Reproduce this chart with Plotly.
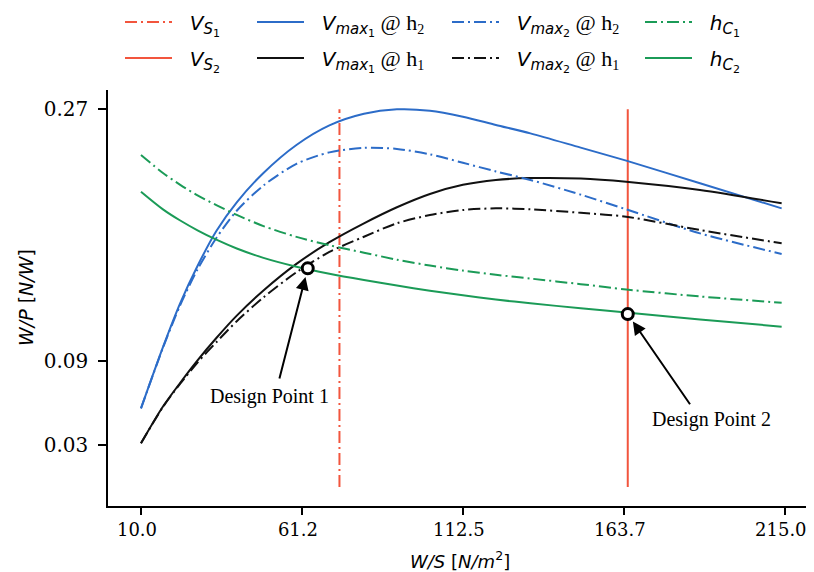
import plotly.graph_objects as go

# ---- data ----
ws = [10, 17, 22.5, 28, 34, 40.5, 49, 59.5, 70, 81, 91.5, 102, 112.5, 123, 134, 150, 164.5, 188, 214]
vmax1_h2 = [0.0562, 0.1000, 0.1315, 0.1580, 0.1830, 0.2035, 0.2245, 0.2445, 0.2585, 0.2668, 0.2700, 0.2690,
            0.2647, 0.2588, 0.2528, 0.2426, 0.2333, 0.2171, 0.1992]
vmax2_h2 = [0.0562, 0.0995, 0.1300, 0.1555, 0.1780, 0.1975, 0.2155, 0.2310, 0.2392, 0.2425, 0.2417, 0.2378,
            0.2318, 0.2256, 0.2195, 0.2090, 0.1985, 0.1813, 0.1666]
vmax1_h1 = [0.0312, 0.0575, 0.0745, 0.0905, 0.1065, 0.1225, 0.1405, 0.1595, 0.1750, 0.1885, 0.2000, 0.2095,
            0.2160, 0.2195, 0.2208, 0.2205, 0.2182, 0.2123, 0.2028]
vmax2_h1 = [0.0312, 0.0572, 0.0738, 0.0890, 0.1035, 0.1185, 0.1355, 0.1535, 0.1680, 0.1789, 0.1885, 0.1944,
            0.1980, 0.1992, 0.1985, 0.1960, 0.1932, 0.1837, 0.1742]
hc1 = [0.2373, 0.2245, 0.2160, 0.2085, 0.2015, 0.1945, 0.1865, 0.1788, 0.1728, 0.1675, 0.1625, 0.1583,
       0.1547, 0.1517, 0.1490, 0.1450, 0.1412, 0.1362, 0.1317]
hc2 = [0.2111, 0.1985, 0.1905, 0.1835, 0.1768, 0.1705, 0.1638, 0.1575, 0.1525, 0.1480, 0.1440, 0.1403,
       0.1370, 0.1340, 0.1313, 0.1278, 0.1248, 0.1198, 0.1146]
vs1 = 73.2
vs2 = 165.0
vs_y = [0.0, 0.27]
dp_x = [63.1, 165.0]
dp_y = [0.1563, 0.1236]
dp_labels = ["Design Point 1", "Design Point 2"]
x_tickvals = [10, 61.25, 112.5, 163.75, 215]
x_ticktext = ["10.0", "61.2", "112.5", "163.7", "215.0"]
y_tickvals = [0.03, 0.09, 0.27]
y_ticktext = ["0.03", "0.09", "0.27"]
x_title = "<i>W/S</i> [<i>N/m</i><sup>2</sup>]"
y_title = "<i>W/P</i> [<i>N/W</i>]"

RED = "#F2553D"
BLUE = "#2C6CC8"
GREEN = "#1B9B57"
BLACK = "#111111"
DD = "12px,4px,2px,4px"
SERIF = "DejaVu Serif"
SANS = "DejaVu Sans"
TIMES = "Liberation Serif"

W, H = 814, 572
ML, MR, MT, MB = 100, 8, 82, 74


def sub(t, size):
    return f"<sub><span style='font-size:{size}px'>{t}</span></sub>"


def sym(main, s, n):
    return f"&nbsp;&nbsp;<i>{main}</i>" + sub(f"<i>{s}</i>" + sub(n, 11), 15)


def at_h(n):
    return f"<span style='font-family:{TIMES};font-size:22px'> @ h{sub(n, 14)}</span>"


names = [
    sym("V", "S", "1"),
    sym("V", "S", "2"),
    sym("V", "max", "1") + at_h(2),
    sym("V", "max", "1") + at_h(1),
    sym("V", "max", "2") + at_h(2),
    sym("V", "max", "2") + at_h(1),
    sym("h", "C", "1"),
    sym("h", "C", "2"),
]

fig = go.Figure()


def line(x, y, color, dash, name, leg):
    fig.add_trace(go.Scatter(x=x, y=y, mode="lines", name=name, legend=leg,
                             line=dict(color=color, width=2, dash=dash, shape="spline", smoothing=0.8),
                             hoverinfo="skip"))


line([vs1, vs1], vs_y, RED, DD, names[0], "legend")
line([vs2, vs2], vs_y, RED, "solid", names[1], "legend2")
line(ws, vmax1_h2, BLUE, "solid", names[2], "legend3")
line(ws, vmax1_h1, BLACK, "solid", names[3], "legend4")
line(ws, vmax2_h2, BLUE, DD, names[4], "legend5")
line(ws, vmax2_h1, BLACK, DD, names[5], "legend6")
line(ws, hc1, GREEN, DD, names[6], "legend7")
line(ws, hc2, GREEN, "solid", names[7], "legend8")

fig.add_trace(go.Scatter(x=dp_x, y=dp_y, mode="markers", showlegend=False, hoverinfo="skip",
                         marker=dict(size=11, color="white", line=dict(color="black", width=3))))

# legend item placements (pixel positions of line-sample start and row centre)
leg_pos = [(125, 22), (125, 58), (257, 22), (257, 58), (452, 22), (452, 58), (645, 22), (645, 58)]
leg_keys = ["legend"] + [f"legend{i}" for i in range(2, 9)]
legends = {}
for k, (px, py) in zip(leg_keys, leg_pos):
    legends[k] = dict(x=(px - 13) / W, xref="container", xanchor="left",
                      y=1 - (py - 8) / H, yref="container", yanchor="middle",
                      bgcolor="rgba(0,0,0,0)", borderwidth=0,
                      font=dict(family=SANS, size=20, color="black"),
                      itemwidth=47)

# annotations
PW = W - ML - MR
PH = H - MT - MB
arrow_off = [(-28.7, 111.7), (63.3, 91.7)]
text_off = [(-38.7, -127.7), (83.8, -105.7)]
anns = []
for i in range(2):
    anns.append(dict(x=dp_x[i], y=dp_y[i], xref="x", yref="y", text="", showarrow=True,
                     ax=arrow_off[i][0], ay=arrow_off[i][1], arrowhead=2, arrowsize=1.3,
                     arrowwidth=2, arrowcolor="black", standoff=9))
    anns.append(dict(x=dp_x[i], y=dp_y[i], xref="x", yref="y", text=dp_labels[i], showarrow=False,
                     xshift=text_off[i][0], yshift=text_off[i][1],
                     font=dict(family=TIMES, size=20, color="black")))
# axis titles (screen centres (460,560) and (26,298); page has an 8px offset)
anns.append(dict(x=(452 - ML) / PW, y=(H - MB - 552) / PH, xref="paper", yref="paper",
                 text=x_title, showarrow=False, xanchor="center", yanchor="middle",
                 font=dict(family=SANS, size=18, color="black")))
anns.append(dict(x=(18 - ML) / PW, y=(H - MB - 290) / PH, xref="paper", yref="paper",
                 text=y_title, showarrow=False, xanchor="center", yanchor="middle", textangle=-90,
                 font=dict(family=SANS, size=19, color="black")))

fig.update_layout(
    width=W, height=H,
    margin=dict(l=ML, r=MR, t=MT, b=MB, autoexpand=False),
    paper_bgcolor="white", plot_bgcolor="white",
    annotations=anns,
    **legends,
)
fig.update_xaxes(range=[-0.5, 224.3], tickvals=x_tickvals, ticktext=x_ticktext,
                 showgrid=False, zeroline=False, showline=True, linecolor="black", linewidth=1.5,
                 ticks="outside", ticklen=7, tickwidth=1.5, tickcolor="black", ticklabelstandoff=0,
                 ticklabelshift=-4,
                 tickfont=dict(family=SERIF, size=18, color="black"))
fig.update_yaxes(range=[-0.0136, 0.2838], tickvals=y_tickvals, ticktext=y_ticktext,
                 showgrid=False, zeroline=False, showline=True, linecolor="black", linewidth=1.5,
                 ticks="outside", ticklen=8, tickwidth=1.5, tickcolor="black", ticklabelstandoff=6,
                 tickfont=dict(family=SERIF, size=20, color="black"))

fig.write_html("out.html")
